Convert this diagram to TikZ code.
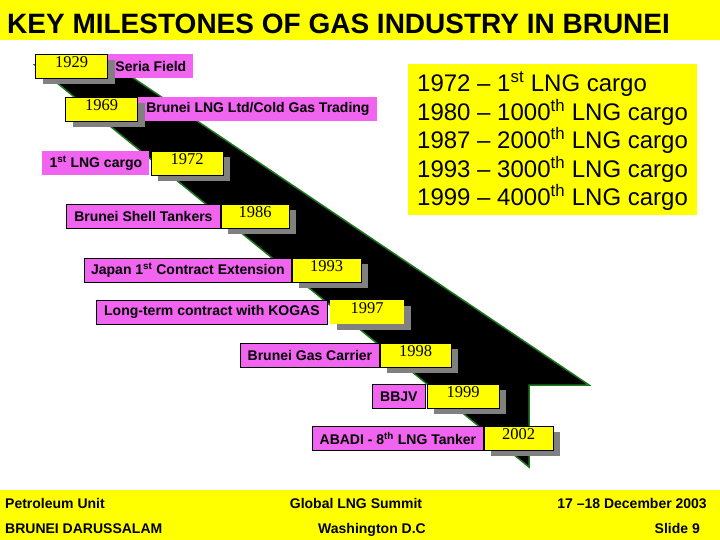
\documentclass[tikz,border=0pt]{standalone}
\usepackage{fontspec}
\setmainfont{Liberation Sans}
\newfontfamily\yearfont{Liberation Serif}
\usetikzlibrary{positioning, shadows}

\definecolor{slideyellow}{RGB}{255,255,0}
\definecolor{labelpink}{RGB}{240,100,240}
\definecolor{bandgreen}{RGB}{30,120,30}
\definecolor{shadowgrey}{RGB}{128,128,128}

\begin{document}
\begin{tikzpicture}[x=1pt, y=-1pt,
    every node/.style={font=\bfseries\fontsize{14}{16}\selectfont},
    yearbox/.style={anchor=north west, fill=slideyellow, draw=black, line width=0.8pt,
      minimum height=24pt, inner xsep=0pt, inner ysep=0pt, text height=13pt, text depth=11pt,
      font=\yearfont\fontsize{16.5}{18}\selectfont,
      drop shadow={shadow xshift=7pt, shadow yshift=-6pt, fill=shadowgrey, opacity=1}},
    evbox/.style={anchor=north west, fill=labelpink, draw=black, line width=0.8pt,
      minimum height=24pt, inner sep=0pt},
    evplain/.style={evbox, draw=none},
    listbox/.style={anchor=north west, fill=slideyellow, align=left, inner xsep=9pt, inner ysep=3pt,
      minimum width=285pt, minimum height=151pt, font=\mdseries\fontsize{24}{28.6}\selectfont},
    footer/.style={font=\bfseries\fontsize{14}{16}\selectfont, inner sep=0pt}
]
\useasboundingbox (0,0) rectangle (720,540);
\fill[white] (0,0) rectangle (720,540);
\fill[slideyellow] (0,0) rectangle (720,40);
\fill[slideyellow] (0,490) rectangle (720,540);
\node[anchor=base west, inner sep=0pt, font=\bfseries\fontsize{28}{32}\selectfont] (title) at (7,34) {KEY MILESTONES OF GAS INDUSTRY IN BRUNEI};

% time band
\draw[fill=black, draw=bandgreen, line width=1.5pt] (35,65) -- (114,65) -- (589,385) -- (529,385) -- (529,467) -- cycle;

% milestones
\node[evplain, minimum width=85pt] (seria) at (108,54) {Seria Field};
\node[yearbox, minimum width=72pt, left=0pt of seria] (y1929) {1929};
\node[evplain, minimum width=239pt] (lngltd) at (138,97) {Brunei LNG Ltd/Cold Gas Trading};
\node[yearbox, minimum width=72pt, left=0pt of lngltd] (y1969) {1969};
\node[evplain, minimum width=107pt] (firstcargo) at (42,151) {1\textsuperscript{st} LNG cargo};
\node[yearbox, minimum width=72pt, right=1pt of firstcargo] (y1972) {1972};
\node[evbox, minimum width=154pt] (shelltank) at (66,204) {Brunei Shell Tankers};
\node[yearbox, minimum width=68pt, right=0pt of shelltank] (y1986) {1986};
\node[evbox, minimum width=207pt] (japan) at (84,258) {Japan 1\textsuperscript{st} Contract Extension};
\node[yearbox, minimum width=69pt, right=0pt of japan] (y1993) {1993};
\node[evbox, minimum width=231pt] (kogas) at (96,300) {Long-term contract with KOGAS};
\node[yearbox, draw=none, minimum width=74pt, right=2pt of kogas] (y1997) {1997};
\node[evbox, minimum width=139pt] (gascarrier) at (240,343) {Brunei Gas Carrier};
\node[yearbox, minimum width=71pt, right=0pt of gascarrier] (y1998) {1998};
\node[evbox, minimum width=53pt] (bbjv) at (372,384) {BBJV};
\node[yearbox, minimum width=72pt, right=1pt of bbjv] (y1999) {1999};
\node[evbox, minimum width=171pt] (abadi) at (312,426) {ABADI - 8\textsuperscript{th} LNG Tanker};
\node[yearbox, minimum width=69pt, right=0pt of abadi] (y2002) {2002};

% cargo list
\node[listbox] (cargo) at (408,64) {\rule{0pt}{23pt}1972 -- 1\textsuperscript{st} LNG cargo\\
1980 -- 1000\textsuperscript{th} LNG cargo\\
1987 -- 2000\textsuperscript{th} LNG cargo\\
1993 -- 3000\textsuperscript{th} LNG cargo\\
1999 -- 4000\textsuperscript{th} LNG cargo};

% footer
\node[footer, anchor=base west] (unit) at (5,508) {Petroleum Unit};
\node[footer, anchor=base west] (country) at (5,533) {BRUNEI DARUSSALAM};
\node[footer, anchor=base] (summit) at (356,508) {Global LNG Summit};
\node[footer, anchor=base] (city) at (372,533) {Washington D.C};
\node[footer, anchor=base east] (date) at (707,508) {17 --18 December 2003};
\node[footer, anchor=base east] (slide) at (700,533) {Slide 9};
\end{tikzpicture}
\end{document}
